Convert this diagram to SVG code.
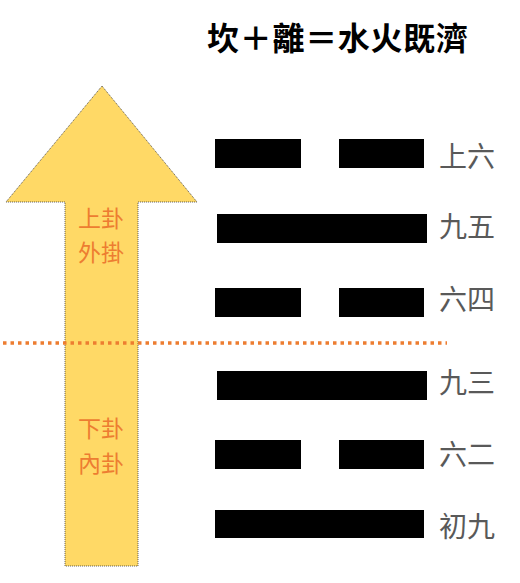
<svg xmlns="http://www.w3.org/2000/svg" width="520" height="583" viewBox="0 0 520 583">
<style>
.bar{fill:#000}
.lbl{font-family:"Noto Sans CJK TC","Noto Sans CJK SC",sans-serif;font-size:28px;fill:#595959}
.ol{font-family:"Noto Sans CJK TC","Noto Sans CJK SC",sans-serif;font-size:23px;fill:#ED7D31;text-anchor:middle}
</style>
<rect width="520" height="583" fill="#fff"/>
<g id="title">
<text x="207" y="50" font-family="'Noto Sans CJK TC','Noto Sans CJK SC',sans-serif" font-size="32" font-weight="bold" fill="#000" textLength="261">坎＋離＝水火既濟</text>
</g>
<g id="arrow">
<polygon points="102,86 197,202 138,202 138,566 65,566 65,202 6,202" fill="#FFD966" stroke="#333" stroke-width="0.8" stroke-dasharray="1 1"/>
<text class="ol" x="101" y="227">上卦</text>
<text class="ol" x="101" y="261">外掛</text>
<text class="ol" x="101" y="437">下卦</text>
<text class="ol" x="101" y="472">內卦</text>
</g>
<g id="connectors">
<line x1="3" y1="343" x2="447" y2="343" stroke="#ED7D31" stroke-width="3.5" stroke-dasharray="3.5 4"/>
</g>
<g id="line6">
<rect class="bar" x="215" y="139" width="86" height="29"/>
<rect class="bar" x="339" y="139" width="85" height="29"/>
<text class="lbl" x="439" y="167">上六</text>
</g>
<g id="line5">
<rect class="bar" x="217" y="214" width="210" height="29"/>
<text class="lbl" x="439" y="236.5">九五</text>
</g>
<g id="line4">
<rect class="bar" x="215" y="288" width="86" height="29"/>
<rect class="bar" x="339" y="288" width="85" height="29"/>
<text class="lbl" x="439" y="310">六四</text>
</g>
<g id="line3">
<rect class="bar" x="217" y="371" width="210" height="29"/>
<text class="lbl" x="439" y="393">九三</text>
</g>
<g id="line2">
<rect class="bar" x="215" y="440" width="86" height="29"/>
<rect class="bar" x="339" y="440" width="85" height="29"/>
<text class="lbl" x="439" y="464.5">六二</text>
</g>
<g id="line1">
<rect class="bar" x="215" y="510" width="209" height="28"/>
<text class="lbl" x="439" y="537">初九</text>
</g>
</svg>
